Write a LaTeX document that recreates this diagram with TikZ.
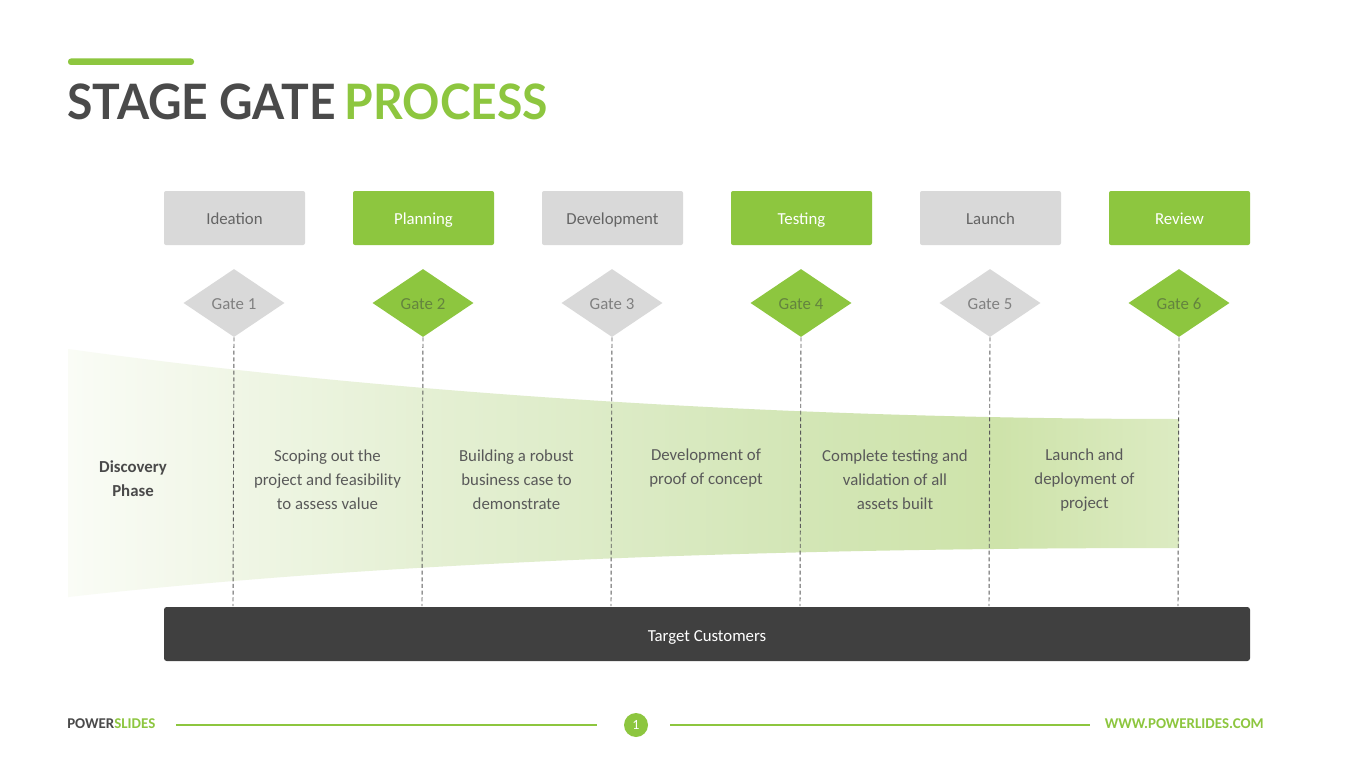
\documentclass[tikz,border=0pt]{standalone}
\usepackage{fontspec}
\setmainfont{Carlito}
\newfontfamily\latofont{Lato}
\usetikzlibrary{shapes.geometric}
\definecolor{sgGreen}{RGB}{141,198,63}
\definecolor{titleGray}{RGB}{74,74,74}
\definecolor{boxGray}{RGB}{217,217,217}
\definecolor{boxText}{RGB}{100,100,100}
\definecolor{gateText}{RGB}{128,128,128}
\definecolor{gateTextG}{RGB}{100,132,62}
\definecolor{descText}{RGB}{89,89,89}
\definecolor{barGray}{RGB}{64,64,64}
\definecolor{dashGray}{RGB}{90,90,90}
\definecolor{fz0}{RGB}{250,252,246}
\definecolor{fz1}{RGB}{240,246,230}
\definecolor{fz2}{RGB}{229,240,212}
\definecolor{fz3}{RGB}{220,235,198}
\definecolor{fz4}{RGB}{211,230,182}
\definecolor{fz5}{RGB}{206,227,170}
\definecolor{fz6}{RGB}{220,235,194}
\pgfdeclarehorizontalshading{funnelshade}{100bp}{color(0bp)=(fz0); color(25bp)=(fz0); color(32.4bp)=(fz1); color(40.9bp)=(fz2); color(49.5bp)=(fz3); color(57.9bp)=(fz4); color(66.9bp)=(fz5); color(75bp)=(fz6); color(100bp)=(fz6)}
\begin{document}
\begin{tikzpicture}[x=0.75pt,y=-0.75pt,
  stagegray/.style={rectangle, rounded corners=1.5pt, fill=boxGray, text=boxText,
    minimum width=105.75pt, minimum height=40.5pt, inner sep=0pt,
    text height=10pt, text depth=0pt,
    font=\fontsize{12.6}{15}\selectfont},
  stagegreen/.style={stagegray, fill=sgGreen, text=white},
  gategray/.style={diamond, aspect=1.5, inner sep=0pt, minimum width=75.75pt,
    minimum height=51pt, fill=boxGray, text=gateText,
    text height=10pt, text depth=0pt, font=\fontsize{12.6}{15}\selectfont},
  gategreen/.style={gategray, fill=sgGreen, text=gateTextG},
  gatedash/.style={draw=dashGray, line width=0.7pt, dash pattern=on 3pt off 2pt},
  desc/.style={align=center, text=descText, inner sep=0pt,
    font=\fontsize{12.6}{18}\selectfont},
  barbox/.style={rectangle, rounded corners=2pt, fill=barGray, text=white,
    minimum width=814.5pt, minimum height=40.5pt, inner sep=0pt,
    text height=11pt, text depth=0pt,
    font=\fontsize{12.6}{15}\selectfont},
  footline/.style={draw=sgGreen, line width=0.8pt}
]
\useasboundingbox (0,0) rectangle (1365,767);
\fill[white] (0,0) rectangle (1365,767);

% title
\fill[sgGreen, rounded corners=2.2pt] (68,58.5) rectangle (194,65);
\node[anchor=base west, inner sep=0pt] (title) at (67,119)
  {\scalebox{0.948}[1]{\latofont\bfseries\fontsize{36.6}{40}\selectfont\textcolor{titleGray}{STAGE GATE}\hspace{-2pt} \textcolor{sgGreen}{PROCESS}}};

% funnel
\shade[shading=funnelshade] (68,349) .. controls (400,395) and (800,419) .. (1179,419)
  -- (1179,548) .. controls (800,548) and (400,560) .. (68,597) -- cycle;

% stage boxes
\node[stagegray]  (s1) at (234.5,218) {Ideation};
\node[stagegreen] (s2) at (423.5,218) {Planning};
\node[stagegray]  (s3) at (612.5,218) {Development};
\node[stagegreen] (s4) at (801.5,218) {Testing};
\node[stagegray]  (s5) at (990.5,218) {Launch};
\node[stagegreen] (s6) at (1179.5,218) {Review};

% gates
\node[gategray]  (g1) at (234,303) {Gate 1};
\node[gategreen] (g2) at (423,303) {Gate 2};
\node[gategray]  (g3) at (612,303) {Gate 3};
\node[gategreen] (g4) at (801,303) {Gate 4};
\node[gategray]  (g5) at (990,303) {Gate 5};
\node[gategreen] (g6) at (1179,303) {Gate 6};

% dashed lines
\coordinate (d1) at (233,606);
\coordinate (d2) at (422,606);
\coordinate (d3) at (611,606);
\coordinate (d4) at (800,606);
\coordinate (d5) at (989,606);
\coordinate (d6) at (1178,606);
\foreach \i in {1,...,6} {\draw[gatedash] (g\i.south) -- (d\i);}

% descriptions
\node[desc, font=\bfseries\fontsize{12.6}{18}\selectfont, text=titleGray] (disc) at (133,479) {Discovery\\Phase};
\node[desc] (t1) at (327.5,480) {Scoping out the\\project and feasibility\\to assess value};
\node[desc] (t2) at (516.5,480) {Building a robust\\business case to\\demonstrate};
\node[desc] (t3) at (706,468) {Development of\\proof of concept};
\node[desc] (t4) at (895,480) {Complete testing and\\validation of all\\assets built};
\node[desc] (t5) at (1084.5,480) {Launch and\\deployment of\\project};

% target customers bar
\node[barbox] (tc) at (707,634) {Target Customers};

% footer
\node[anchor=west, inner sep=0pt, font=\bfseries\fontsize{11.2}{13}\selectfont] (ps) at (67,724)
  {\textcolor{titleGray}{POWER}\textcolor{sgGreen}{SLIDES}};
\node[circle, fill=sgGreen, text=white, minimum size=18pt, inner sep=0pt,
  font=\fontsize{10.5}{12}\selectfont] (pg) at (636,725) {1};
\coordinate (fa) at (176,725);
\coordinate (fb) at (597,725);
\coordinate (fc) at (670,725);
\coordinate (fd) at (1090,725);
\draw[footline] (fa) -- (fb);
\draw[footline] (fc) -- (fd);
\node[anchor=east, inner sep=0pt, text=sgGreen, font=\bfseries\fontsize{11.2}{13}\selectfont] (www) at (1264,724) {WWW.POWERLIDES.COM};
\end{tikzpicture}
\end{document}
